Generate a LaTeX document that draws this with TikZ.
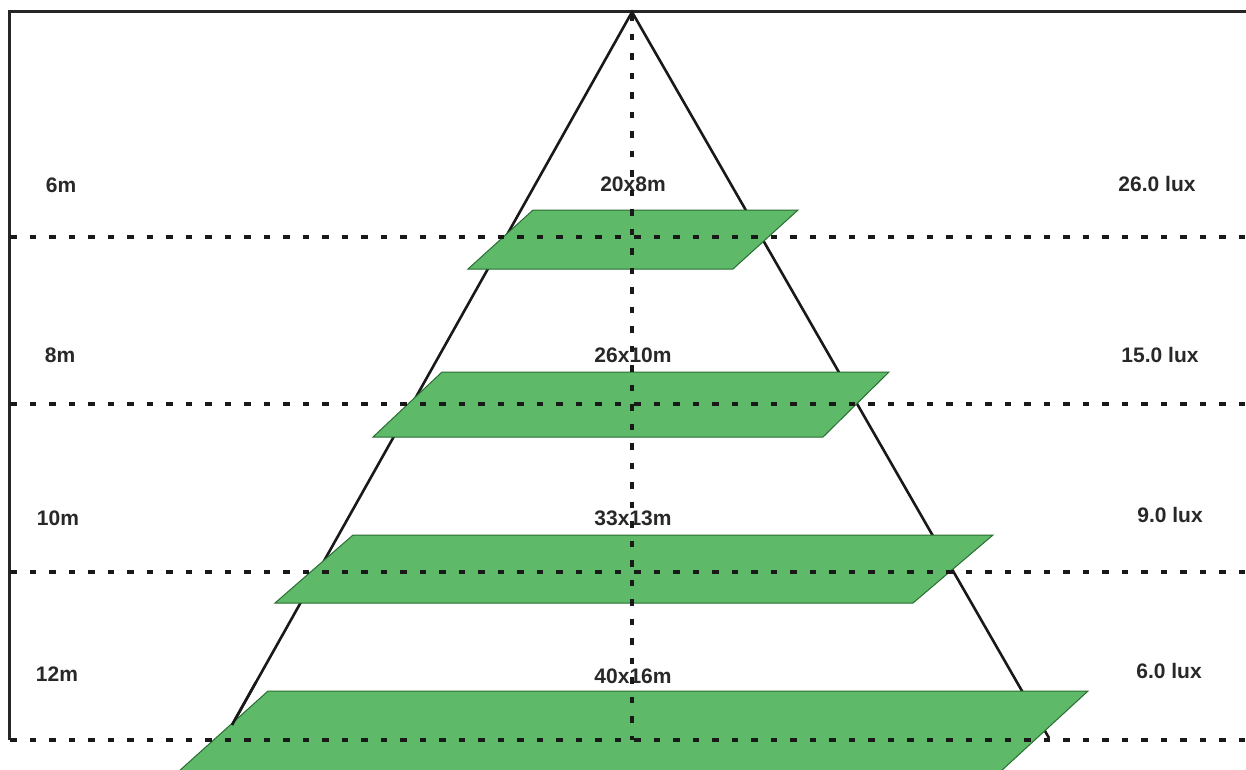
\documentclass[tikz,border=0pt]{standalone}
\usepackage{fontspec}
\setmainfont{Liberation Sans}
\definecolor{plane}{RGB}{94,185,104}
\definecolor{planeedge}{RGB}{40,110,50}
\definecolor{txt}{RGB}{40,40,40}
\tikzset{
  frameline/.style={line width=3pt, black!85},
  legline/.style={line width=2.6pt, black!90},
  dotline/.style={line width=4.5pt, black!90, dash pattern=on 6.5pt off 13pt},
  planeshape/.style={fill=plane, draw=planeedge, line width=1pt},
  lbl/.style={font=\bfseries\fontsize{21}{25}\selectfont, text=txt, inner sep=0pt}
}
\begin{document}
\begin{tikzpicture}[x=1pt,y=-1pt]
\useasboundingbox (0,0) rectangle (1246,769);
\fill[white] (0,0) rectangle (1246,769);
% frame
\coordinate (tl) at (9,11);
\coordinate (tr) at (1246,11);
\coordinate (bl) at (9,740);
\draw[frameline] (bl) -- (tl) -- (tr);
% triangle
\coordinate (apex) at (632,12);
\coordinate (lfoot) at (232,725);
\coordinate (rfoot) at (1049,738);
\draw[legline] (lfoot) -- (apex) -- (rfoot);
% planes
\draw[planeshape] (533,210) -- (798,210) -- (733,269) -- (468,269) -- cycle;
\draw[planeshape] (442,372) -- (889,372) -- (823,437) -- (373,437) -- cycle;
\draw[planeshape] (353,535) -- (993,535) -- (913,603) -- (275,603) -- cycle;
\draw[planeshape] (268,691) -- (1088,691) -- (1000,772) -- (178,772) -- cycle;
% left leg visible over bottom plane
\coordinate (lmid) at (256,682);
\draw[legline] (lmid) -- (lfoot);
% labels
\node[lbl] (h1) at (61,185) {6m};
\node[lbl] (h2) at (60,355) {8m};
\node[lbl] (h3) at (58,518) {10m};
\node[lbl] (h4) at (57,674) {12m};
\node[lbl] (s1) at (633,184) {20x8m};
\node[lbl] (s2) at (633,355) {26x10m};
\node[lbl] (s3) at (633,518) {33x13m};
\node[lbl] (s4) at (633,676) {40x16m};
\node[lbl] (l1) at (1157,184) {26.0 lux};
\node[lbl] (l2) at (1160,355) {15.0 lux};
\node[lbl] (l3) at (1170,515) {9.0 lux};
\node[lbl] (l4) at (1169,671) {6.0 lux};
% dotted lines
\coordinate (d1a) at (10,237); \coordinate (d1b) at (1246,237);
\coordinate (d2a) at (10,404); \coordinate (d2b) at (1246,404);
\coordinate (d3a) at (10,572); \coordinate (d3b) at (1246,572);
\coordinate (d4a) at (10,740); \coordinate (d4b) at (1246,740);
\draw[dotline] (d1a) -- (d1b);
\draw[dotline] (d2a) -- (d2b);
\draw[dotline] (d3a) -- (d3b);
\draw[dotline] (d4a) -- (d4b);
\coordinate (vtop) at (632,14);
\coordinate (vbot) at (632,740);
\draw[dotline] (vtop) -- (vbot);
\end{tikzpicture}
\end{document}
